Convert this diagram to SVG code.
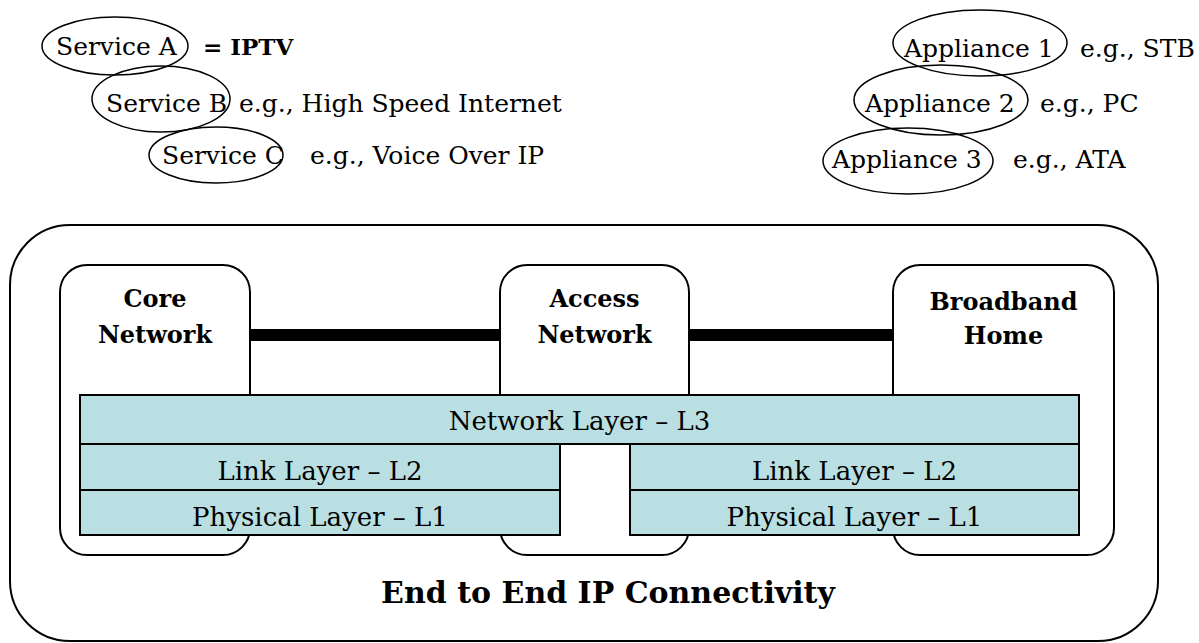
<svg xmlns="http://www.w3.org/2000/svg" width="1199" height="643" viewBox="0 0 1199 643">
<style>
.t{font-family:"DejaVu Serif","Liberation Serif",serif;font-size:26px;fill:#000}
.s{font-family:"DejaVu Serif","Liberation Serif",serif;font-size:25px;fill:#000}
.tb{font-family:"DejaVu Serif","Liberation Serif",serif;font-size:24px;font-weight:bold;fill:#000}
.ell{fill:none;stroke:#000;stroke-width:1.5}
.box{fill:#fff;stroke:#000;stroke-width:2}
.layer{fill:#B9DFE2;stroke:#000;stroke-width:2}
.link{stroke:#000;stroke-width:12}
</style>
<rect width="1199" height="643" fill="#fff"/>
<g id="services">
<ellipse class="ell" cx="115" cy="46" rx="73" ry="29"/>
<text class="s" x="56" y="55">Service A</text>
<text class="tb" x="203" y="55" style="font-size:23px">= IPTV</text>
<ellipse class="ell" cx="161" cy="99" rx="69" ry="33"/>
<text class="s" x="106" y="112">Service B</text>
<text class="s" x="239" y="112">e.g., High Speed Internet</text>
<ellipse class="ell" cx="216" cy="155" rx="67" ry="28"/>
<text class="s" x="162" y="164">Service C</text>
<text class="s" x="310" y="164">e.g., Voice Over IP</text>
</g>
<g id="appliances">
<ellipse class="ell" cx="980" cy="43" rx="87" ry="33"/>
<text class="s" x="904" y="57">Appliance 1</text>
<text class="s" x="1080" y="57">e.g., STB</text>
<ellipse class="ell" cx="941" cy="100" rx="87" ry="35"/>
<text class="s" x="865" y="112">Appliance 2</text>
<text class="s" x="1040" y="112">e.g., PC</text>
<ellipse class="ell" cx="908" cy="161" rx="85" ry="33"/>
<text class="s" x="832" y="168">Appliance 3</text>
<text class="s" x="1013" y="168">e.g., ATA</text>
</g>
<g id="end-to-end">
<rect class="box" x="10" y="225" width="1148" height="416" rx="60" ry="60"/>
<text class="tb" x="608" y="603" text-anchor="middle" style="font-size:30px">End to End IP Connectivity</text>
</g>
<g id="connectors">
<line class="link" x1="250" y1="335" x2="500" y2="335"/>
<line class="link" x1="689" y1="335" x2="893" y2="335"/>
</g>
<g id="core-network">
<rect class="box" x="60" y="265" width="190" height="290" rx="27" ry="27"/>
<text class="tb" x="155" y="307" text-anchor="middle">Core</text>
<text class="tb" x="155" y="343" text-anchor="middle">Network</text>
</g>
<g id="access-network">
<rect class="box" x="500" y="265" width="189" height="290" rx="27" ry="27"/>
<text class="tb" x="594.5" y="307" text-anchor="middle">Access</text>
<text class="tb" x="594.5" y="343" text-anchor="middle">Network</text>
</g>
<g id="broadband-home">
<rect class="box" x="893" y="265" width="221" height="290" rx="27" ry="27"/>
<text class="tb" x="1003.5" y="310" text-anchor="middle">Broadband</text>
<text class="tb" x="1003.5" y="344" text-anchor="middle">Home</text>
</g>
<g id="network-layer">
<rect class="layer" x="80" y="395" width="999" height="49"/>
<text class="t" x="579.5" y="430" text-anchor="middle">Network Layer – L3</text>
</g>
<g id="link-layer-left">
<rect class="layer" x="80" y="444" width="480" height="46"/>
<text class="t" x="320" y="480" text-anchor="middle">Link Layer – L2</text>
</g>
<g id="physical-layer-left">
<rect class="layer" x="80" y="490" width="480" height="45"/>
<text class="t" x="320" y="526" text-anchor="middle">Physical Layer – L1</text>
</g>
<g id="link-layer-right">
<rect class="layer" x="630" y="444" width="449" height="46"/>
<text class="t" x="854.5" y="480" text-anchor="middle">Link Layer – L2</text>
</g>
<g id="physical-layer-right">
<rect class="layer" x="630" y="490" width="449" height="45"/>
<text class="t" x="854.5" y="526" text-anchor="middle">Physical Layer – L1</text>
</g>
</svg>
